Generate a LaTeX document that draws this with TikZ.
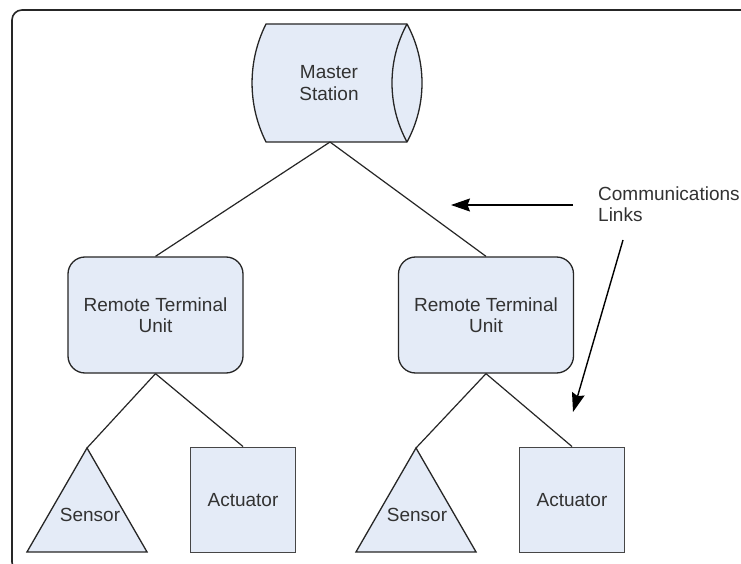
\documentclass[tikz,border=0pt]{standalone}
\usepackage{fontspec}
\setmainfont{Liberation Sans}
\usetikzlibrary{arrows.meta,shapes.geometric}
\definecolor{boxfill}{RGB}{228,235,247}
\definecolor{ink}{RGB}{38,38,38}
\definecolor{txtc}{RGB}{50,50,50}
\definecolor{actink}{RGB}{70,70,70}
\begin{document}
\begin{tikzpicture}[x=1pt,y=-1pt,
  txt/.style={font=\fontsize{19}{21.5}\selectfont, text=txtc, align=center, inner sep=0pt},
  rtubox/.style={draw=ink, fill=boxfill, line width=1.3pt, rounded corners=17pt, minimum width=175pt, minimum height=116pt, inner sep=0pt, txt},
  actbox/.style={draw=actink, fill=boxfill, line width=1.9pt, minimum size=105pt, inner sep=0pt, txt},
  sensortri/.style={draw=ink, fill=boxfill, line width=1.3pt, regular polygon, regular polygon sides=3, minimum size=138.6pt, inner sep=0pt, outer sep=0pt},
  link/.style={draw=ink, line width=1.2pt},
  pointer/.style={draw=black, line width=1.4pt, -{Stealth[length=19pt,width=13pt,inset=2.5pt]}},
  frameline/.style={draw=black!85, line width=1.6pt, rounded corners=10pt}
]
\useasboundingbox (0,0) rectangle (741,564);
\begin{scope}
  \clip (0,0) rectangle (741,564);
  \fill[white] (0,0) rectangle (741,564);
  \path[frameline] (12,10) rectangle (760,572);
\end{scope}

% Master station (sideways cylinder)
\path[draw=ink, fill=boxfill, line width=1.3pt]
  (266,24) -- (407,24) .. controls (427,60.8) and (427,105.2) .. (407,142)
  -- (266,142) .. controls (247.4,104.9) and (247.4,61.1) .. (266,24) -- cycle;
\path[draw=ink, line width=1.3pt]
  (407,142) .. controls (387,105.2) and (387,60.8) .. (407,24);
\node[txt] (master) at (329,83) {Master\\Station};
\coordinate (mbot) at (330,142);

% Remote terminal units
\node[rtubox] (rtu1) at (155.5,315) {Remote Terminal\\Unit};
\node[rtubox] (rtu2) at (486,315) {Remote Terminal\\Unit};

% Sensors
\node[sensortri] (s1) at (87,517.3) {};
\node[txt] (s1t) at (90,515) {Sensor};
\node[sensortri] (s2) at (416,517.3) {};
\node[txt] (s2t) at (417,515) {Sensor};

% Actuators
\node[actbox] (a1) at (243,500) {Actuator};
\node[actbox] (a2) at (572,500) {Actuator};

% Links
\draw[link] (mbot) -- (rtu1.north);
\draw[link] (mbot) -- (rtu2.north);
\draw[link] (rtu1.south) -- (s1.corner 1);
\draw[link] (rtu1.south) -- (a1.north);
\draw[link] (rtu2.south) -- (s2.corner 1);
\draw[link] (rtu2.south) -- (a2.north);

% Communications links label and pointers
\node[txt, align=left, anchor=west] (comm) at (598,204) {Communications\\Links};
\coordinate (p1s) at (573,205);
\coordinate (p1e) at (451,205);
\coordinate (p2s) at (623,240);
\coordinate (p2e) at (573,412);
\draw[pointer] (p1s) -- (p1e);
\draw[pointer] (p2s) -- (p2e);
\end{tikzpicture}
\end{document}
